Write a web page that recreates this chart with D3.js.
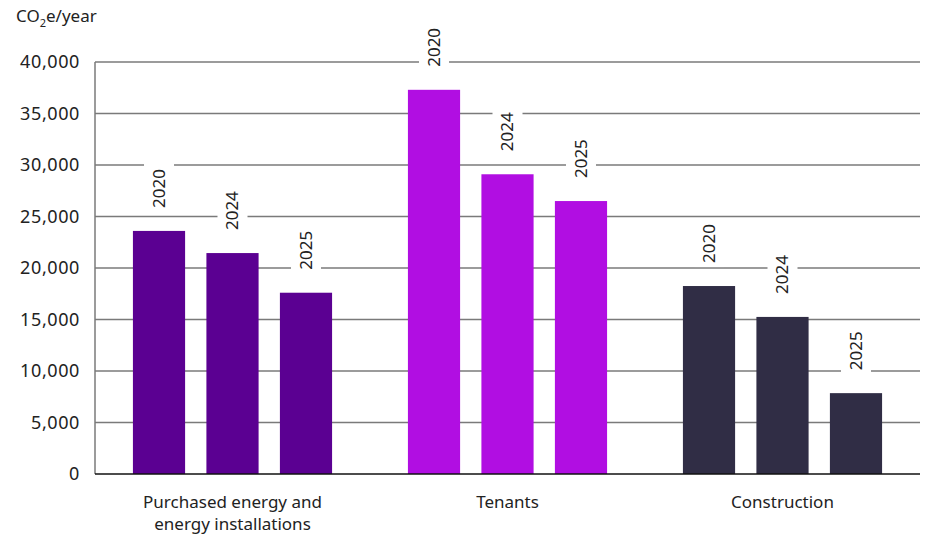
<!DOCTYPE html>
<html>
<head>
<meta charset="utf-8">
<script src="https://cdn.jsdelivr.net/npm/d3@7"></script>
<style>
  body { margin: 0; background: #fff; }
  text { font-family: "Noto Sans", sans-serif; fill: #222; }
</style>
</head>
<body>
<div id="chart"></div>
<script>
var width = 928, height = 536;
var margin = {top: 62, right: 8, bottom: 62, left: 95};

// data
var categories = ["Purchased energy and energy installations", "Tenants", "Construction"];
var categoryLines = [["Purchased energy and", "energy installations"], ["Tenants"], ["Construction"]];
var years = ["2020", "2024", "2025"];
var values = [
  [23600, 21450, 17600],
  [37300, 29100, 26500],
  [18250, 15250, 7850]
];
var colors = ["#5b0092", "#b10ee2", "#302d45"];
var yTicks = [0, 5000, 10000, 15000, 20000, 25000, 30000, 35000, 40000];

var svg = d3.select("#chart").append("svg")
  .attr("width", width)
  .attr("height", height);

var x0 = d3.scaleBand()
  .domain(categories)
  .range([margin.left, width - margin.right])
  .padding(0);

var x1 = d3.scaleBand()
  .domain(years)
  .range([0, x0.bandwidth()])
  .paddingInner(0.29)
  .paddingOuter(0.516);

var y = d3.scaleLinear()
  .domain([0, 40000])
  .range([height - margin.bottom, margin.top]);

// grid lines
svg.append("g")
  .selectAll("line")
  .data(yTicks.slice(1))
  .enter().append("line")
  .attr("x1", margin.left)
  .attr("x2", width - margin.right)
  .attr("y1", d => y(d))
  .attr("y2", d => y(d))
  .attr("stroke", "#7a7a7a")
  .attr("stroke-width", 1.5);

// left axis line
svg.append("line")
  .attr("x1", margin.left).attr("x2", margin.left)
  .attr("y1", y(40000)).attr("y2", y(0))
  .attr("stroke", "#7a7a7a")
  .attr("stroke-width", 1.5);

// y tick labels
var fmt = d3.format(",");
svg.append("g")
  .selectAll("text")
  .data(yTicks)
  .enter().append("text")
  .attr("x", 80)
  .attr("y", d => y(d))
  .attr("dy", "0.35em")
  .attr("text-anchor", "end")
  .style("font-size", "18px")
  .style("letter-spacing", "0.6px")
  .text(d => fmt(d));

// y title
var title = svg.append("text")
  .attr("x", 16)
  .attr("y", 22)
  .style("font-size", "17px");
title.append("tspan").text("CO");
title.append("tspan").attr("dy", 5).style("font-size", "11px").text("2");
title.append("tspan").attr("dy", -5).text("e/year");

// bars and labels
var groups = svg.append("g")
  .selectAll("g")
  .data(categories)
  .enter().append("g")
  .attr("transform", d => "translate(" + x0(d) + ",0)");

groups.each(function(cat, i) {
  var g = d3.select(this);
  var data = years.map((yr, j) => ({year: yr, value: values[i][j]}));

  g.selectAll("rect.bar")
    .data(data)
    .enter().append("rect")
    .attr("class", "bar")
    .attr("x", d => x1(d.year))
    .attr("y", d => y(d.value))
    .attr("width", x1.bandwidth())
    .attr("height", d => y(0) - y(d.value))
    .attr("fill", colors[i]);

  var lab = g.selectAll("g.lab")
    .data(data)
    .enter().append("g")
    .attr("class", "lab")
    .attr("transform", d => "translate(" + (x1(d.year) + x1.bandwidth() / 2) + "," + (y(d.value) - 23) + ") rotate(-90)");

  lab.append("rect")
    .attr("x", -4)
    .attr("y", -15)
    .attr("width", 48)
    .attr("height", 30)
    .attr("fill", "#fff");

  lab.append("text")
    .attr("x", 0)
    .attr("y", 0)
    .attr("dy", "0.35em")
    .style("font-size", "17px")
    .text(d => d.year);
});

// baseline
svg.append("line")
  .attr("x1", margin.left)
  .attr("x2", width - margin.right)
  .attr("y1", y(0))
  .attr("y2", y(0))
  .attr("stroke", "#111")
  .attr("stroke-width", 1.5);

// category labels, one text per line
var catLabels = svg.append("g");
categories.forEach(function(cat, i) {
  categoryLines[i].forEach(function(line, k) {
    catLabels.append("text")
      .attr("text-anchor", "middle")
      .attr("x", x0(cat) + x0.bandwidth() / 2)
      .attr("y", 508 + k * 22)
      .style("font-size", "17px")
      .text(line);
  });
});
</script>
</body>
</html>
